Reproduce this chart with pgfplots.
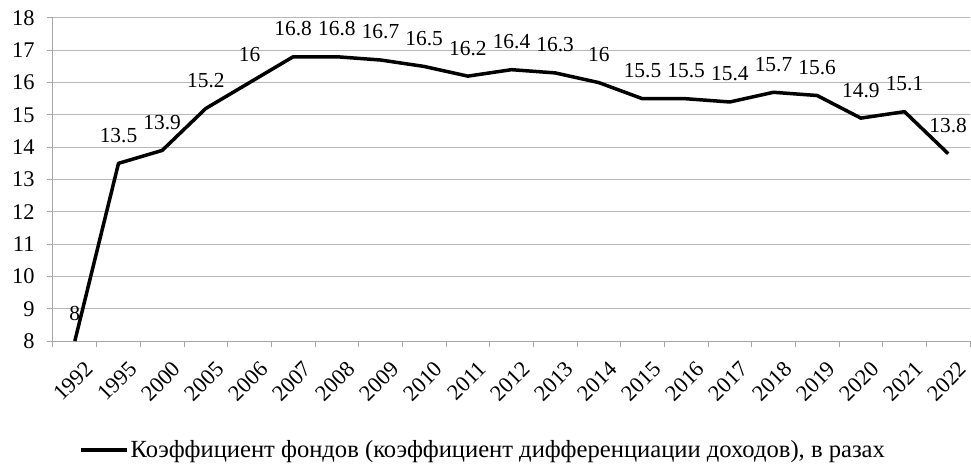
\documentclass[border=0pt]{standalone}
\usepackage{pgfplots}
\pgfplotsset{compat=1.18}
\usepackage{fontspec}
\setmainfont{Liberation Serif}
\begin{document}
\begin{tikzpicture}
\path[use as bounding box] (-53bp,-124bp) rectangle (918bp,341bp);
\begin{axis}[
  at={(0,0)}, anchor=south west,
  scale only axis, width=917bp, height=323bp,
  xmin=-0.5, xmax=20.5, ymin=8, ymax=18,
  ytick={8,...,18},
  xtick={0,...,20},
  xticklabels={1992,1995,2000,2005,2006,2007,2008,2009,2010,2011,2012,2013,2014,2015,2016,2017,2018,2019,2020,2021,2022},
  minor xtick={-0.5,0.5,...,20.5},
  major x tick style={draw=none},
  minor x tick style={draw=black!35, line width=1bp},
  major y tick style={draw=black!35, line width=1bp},
  major tick length=6bp, minor tick length=6bp,
  tick align=outside,
  axis x line*=bottom, axis y line*=left,
  axis line style={draw=black!35, line width=1bp, -},
  ymajorgrids, major grid style={draw=black!28, line width=1bp},
  /pgf/number format/assume math mode=true,
  ticklabel style={font=\fontsize{22.5}{22.5}\selectfont},
  yticklabel style={xshift=-9bp},
  xticklabel style={rotate=45, anchor=north east, yshift=-12bp, xshift=1bp},
  legend style={at={(0.469,-0.337)}, anchor=center, draw=none, font=\fontsize{24.7}{26}\selectfont, fill=none},
  legend image code/.code={\draw[black, line width=3.5bp] (0bp,0bp)--(46bp,0bp);},
  clip=false,
]
\addplot[black, line width=3.5bp, mark=none, line join=round,
  nodes near coords,
  every node near coord/.append style={font=\fontsize{21.5}{21.5}\selectfont, anchor=center, yshift=28bp, text=black}]
coordinates {
(0,8) (1,13.5) (2,13.9) (3,15.2) (4,16) (5,16.8) (6,16.8) (7,16.7) (8,16.5) (9,16.2) (10,16.4)
(11,16.3) (12,16) (13,15.5) (14,15.5) (15,15.4) (16,15.7) (17,15.6) (18,14.9) (19,15.1) (20,13.8)
};
\addlegendentry{Коэффициент фондов (коэффициент дифференциации доходов), в разах}
\end{axis}
\end{tikzpicture}
\end{document}
